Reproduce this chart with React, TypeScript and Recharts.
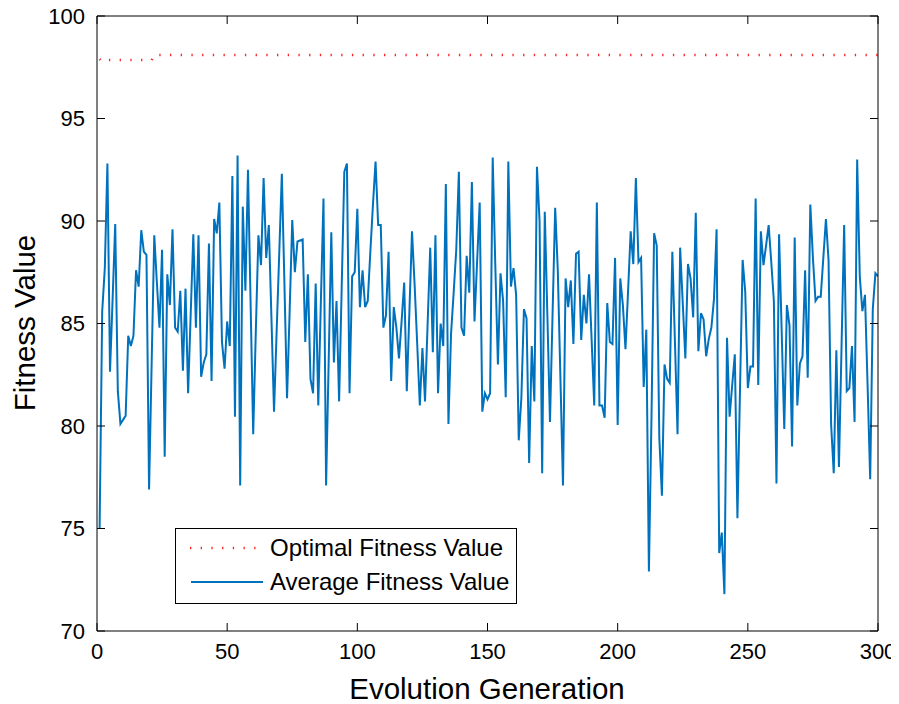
import React from 'react';
import { LineChart, Line, XAxis, YAxis, Legend } from 'recharts';

// average fitness per generation (1..300)
const averageFitness: number[] = [
  75.0, 85.6, 87.7, 92.8, 82.65, 86.2, 89.85, 81.7, 80.1, 80.3,
  80.5, 84.4, 83.9, 84.4, 87.6, 86.8, 89.55, 88.5, 88.35, 76.9,
  83.1, 89.3, 87.0, 84.8, 88.6, 78.5, 87.4, 85.9, 89.6, 84.8,
  84.6, 86.6, 82.7, 86.7, 81.6, 85.5, 89.35, 84.8, 89.3, 82.4,
  83.1, 83.5, 88.9, 82.2, 90.1, 89.4, 90.9, 84.1, 82.8, 85.1,
  83.9, 92.2, 80.45, 93.2, 77.1, 90.7, 86.6, 92.5, 86.0, 79.6,
  84.6, 89.3, 87.85, 92.1, 88.2, 89.8, 85.3, 80.7, 84.6, 88.4,
  92.3, 86.9, 81.35, 85.6, 90.05, 87.5, 89.0, 89.05, 89.1, 84.1,
  87.4, 82.3, 81.6, 86.95, 81.0, 86.1, 91.1, 77.1, 83.2, 89.45,
  83.1, 86.1, 81.2, 86.8, 92.4, 92.8, 81.6, 87.3, 87.5, 90.6,
  85.8, 87.6, 85.8, 86.1, 88.5, 90.8, 92.9, 89.8, 89.8, 84.8,
  85.4, 88.5, 82.2, 85.8, 84.8, 83.3, 85.1, 87.0, 81.7, 85.6,
  89.5, 86.9, 84.0, 81.0, 83.8, 81.2, 85.0, 88.7, 83.6, 89.3,
  81.6, 85.0, 83.9, 91.8, 80.1, 84.5, 86.5, 88.6, 92.4, 84.8,
  84.4, 88.3, 86.5, 91.9, 85.1, 88.0, 90.9, 80.7, 81.6, 81.3,
  81.6, 93.1, 87.8, 83.0, 87.45, 86.1, 81.4, 92.9, 86.8, 87.7,
  86.4, 79.3, 81.35, 85.7, 85.25, 78.2, 83.9, 81.2, 92.65, 90.0,
  77.7, 90.45, 85.4, 80.2, 85.5, 90.65, 87.6, 82.4, 77.1, 87.2,
  85.8, 87.1, 84.0, 88.4, 88.5, 84.2, 86.4, 85.0, 87.4, 84.2,
  81.0, 90.9, 81.0, 81.0, 80.4, 86.0, 84.1, 84.0, 88.2, 80.05,
  87.2, 85.9, 83.75, 86.6, 89.5, 87.9, 92.1, 88.0, 88.2, 81.9,
  84.7, 72.9, 80.5, 89.4, 88.8, 79.4, 76.6, 83.0, 82.3, 82.1,
  88.5, 84.1, 79.6, 88.7, 86.0, 83.3, 87.9, 87.2, 85.3, 90.4,
  83.65, 85.5, 85.2, 83.4, 84.25, 84.8, 86.2, 89.6, 73.8, 74.8,
  71.8, 84.3, 80.45, 82.0, 83.5, 75.5, 81.8, 88.1, 86.55, 81.85,
  82.9, 82.9, 91.1, 82.0, 89.5, 87.85, 88.8, 89.8, 88.0, 86.1,
  77.2, 89.35, 84.6, 79.85, 85.9, 84.9, 79.0, 89.2, 81.0, 83.05,
  83.4, 87.6, 82.35, 90.8, 88.2, 86.1, 86.3, 86.3, 88.2, 90.1,
  88.1, 80.05, 77.7, 83.7, 78.0, 83.9, 89.8, 81.7, 81.85, 83.9,
  80.2, 93.0, 87.3, 85.6, 86.4, 82.0, 77.4, 85.7, 87.45, 87.3,
];

// optimal fitness: flat apart from a small step near generation 21
const optimalGenerations = [1, 2, 3, 21, 22, 300];
const optimalValues = [97.9, 97.78, 97.85, 97.85, 98.1, 98.1];

const xTicks = [0, 50, 100, 150, 200, 250, 300];
const yTicks = [70, 75, 80, 85, 90, 95, 100];

const averageData = averageFitness.map((value, i) => ({ gen: i + 1, value }));
const optimalData = optimalGenerations.map((gen, i) => ({ gen, value: optimalValues[i] }));

const BLUE = '#0072bd';
const RED = '#ff2020';
const FONT = '"Liberation Sans", Arial, Helvetica, sans-serif';
const tickStyle = { fill: '#000', fontSize: 22, fontFamily: FONT };

const LegendBox = () => (
  <div style={{ width: 342, height: 76, boxSizing: 'border-box', border: '1.3px solid #000', background: '#fff' }}>
    <svg width={340} height={74} style={{ display: 'block' }}>
      <line x1={14} x2={82} y1={19} y2={19} stroke={RED} strokeWidth={2.5} strokeDasharray="1.3 9.4" />
      <line x1={15} x2={87} y1={53} y2={53} stroke={BLUE} strokeWidth={2} />
      <text x={94} y={27} fontSize={24} fontFamily={FONT} fill="#000">Optimal Fitness Value</text>
      <text x={94} y={61} fontSize={24} fontFamily={FONT} fill="#000">Average Fitness Value</text>
    </svg>
  </div>
);

export default function App() {
  return (
    <div style={{ position: 'relative', width: 899, height: 704, margin: '-8px 0 0 -8px', fontFamily: FONT }}>
      <LineChart width={899} height={704} margin={{ top: 0, right: 0, bottom: 0, left: 0 }}>
        <XAxis
          dataKey="gen"
          type="number"
          domain={[0, 300]}
          ticks={xTicks}
          interval={0}
          allowDataOverflow
          height={73}
          tickSize={-8}
          tickMargin={20}
          tick={tickStyle}
          axisLine={{ stroke: '#000' }}
          tickLine={{ stroke: '#000' }}
        />
        <XAxis
          xAxisId="top"
          orientation="top"
          dataKey="gen"
          type="number"
          domain={[0, 300]}
          ticks={xTicks}
          interval={0}
          allowDataOverflow
          height={16}
          tickSize={-8}
          tickFormatter={() => ''}
          axisLine={{ stroke: '#000' }}
          tickLine={{ stroke: '#000' }}
        />
        <YAxis
          type="number"
          domain={[70, 100]}
          ticks={yTicks}
          interval={0}
          allowDataOverflow
          width={97}
          tickSize={-8}
          tickMargin={20}
          tick={tickStyle}
          axisLine={{ stroke: '#000' }}
          tickLine={{ stroke: '#000' }}
        />
        <YAxis
          yAxisId="right"
          orientation="right"
          type="number"
          domain={[70, 100]}
          ticks={yTicks}
          interval={0}
          allowDataOverflow
          width={21}
          tickSize={-8}
          tickFormatter={() => ''}
          axisLine={{ stroke: '#000' }}
          tickLine={{ stroke: '#000' }}
        />
        <Line
          data={averageData}
          dataKey="value"
          name="Average Fitness Value"
          stroke={BLUE}
          strokeWidth={2}
          dot={false}
          isAnimationActive={false}
        />
        <Line
          data={optimalData}
          xAxisId="top"
          yAxisId="right"
          dataKey="value"
          name="Optimal Fitness Value"
          stroke={RED}
          strokeWidth={2.5}
          strokeDasharray="1.3 9.4"
          dot={false}
          isAnimationActive={false}
        />
        <Legend
          layout="vertical"
          align="center"
          verticalAlign="middle"
          wrapperStyle={{ left: 175, top: 528, width: 342 }}
          content={() => <LegendBox />}
        />
      </LineChart>
      <div
        style={{
          position: 'absolute', left: 187, top: 674, width: 600, textAlign: 'center',
          fontSize: 29.5, lineHeight: '30px', color: '#000',
        }}
      >
        Evolution Generation
      </div>
      <div
        style={{
          position: 'absolute', left: 25 - 150, top: 323 - 15, width: 300, height: 30,
          textAlign: 'center', fontSize: 29.5, lineHeight: '30px', color: '#000',
          transform: 'rotate(-90deg)', transformOrigin: '50% 50%',
        }}
      >
        Fitness Value
      </div>
    </div>
  );
}
